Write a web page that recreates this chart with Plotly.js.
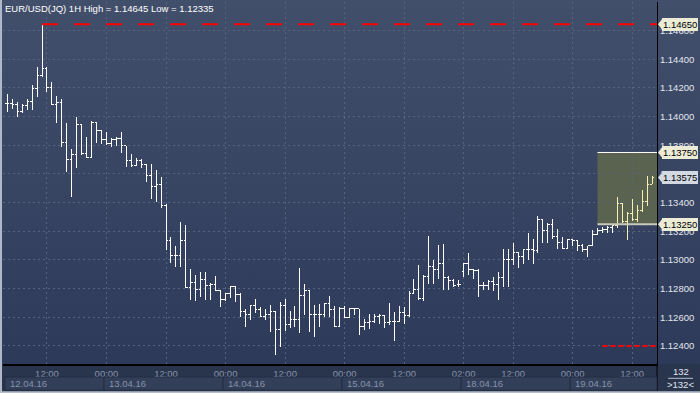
<!DOCTYPE html>
<html><head><meta charset="utf-8">
<script src="https://cdn.plot.ly/plotly-3.0.1.min.js"></script>
<style>
html,body{margin:0;padding:0;background:#2c3858;}
#chart{width:700px;height:393px;background:linear-gradient(to bottom,#424f6b 0%,#2c3858 100%);}
#chart .ohlclayer path{shape-rendering:crispEdges !important;}
</style>
</head><body><div id="chart"></div>
<script>
const openP=[1.14093,1.14093,1.14082,1.14035,1.14077,1.14109,1.14193,1.14289,1.14337,1.14205,
1.14086,1.14100,1.13821,1.13698,1.13737,1.13942,1.13744,1.13716,1.13961,1.13902,
1.13844,1.13814,1.13844,1.13849,1.13798,1.13695,1.13656,1.13693,1.13663,1.13588,
1.13516,1.13528,1.13377,1.13135,1.13028,1.13028,1.13133,1.12808,1.12842,1.12791,
1.12867,1.12821,1.12826,1.12786,1.12721,1.12768,1.12814,1.12761,1.12639,1.12621,
1.12679,1.12651,1.12607,1.12621,1.12639,1.12516,1.12679,1.12551,1.12586,1.12586,
1.12749,1.12784,1.12616,1.12621,1.12616,1.12693,1.12656,1.12539,1.12658,1.12600,
1.12658,1.12658,1.12535,1.12562,1.12569,1.12604,1.12609,1.12562,1.12574,1.12574,
1.12635,1.12609,1.12768,1.12796,1.12733,1.12883,1.12953,1.12930,1.12972,1.12876,
1.12855,1.12826,1.12918,1.12972,1.12935,1.12925,1.12819,1.12819,1.12853,1.12832,
1.12879,1.13000,1.13005,1.13051,1.13023,1.13070,1.13070,1.13063,1.13279,1.13204,
1.13244,1.13167,1.13121,1.13077,1.13140,1.13133,1.13098,1.13075,1.13098,1.13178,
1.13209,1.13214,1.13228,1.13237,1.13391,1.13267,1.13321,1.13284,1.13342,1.13407,
1.13530];
const highP=[1.14158,1.14123,1.14100,1.14089,1.14121,1.14221,1.14344,1.14645,1.14344,1.14240,
1.14144,1.14123,1.13958,1.13775,1.13996,1.13942,1.13861,1.13970,1.13965,1.13907,
1.13895,1.13854,1.13856,1.13891,1.13798,1.13737,1.13714,1.13705,1.13668,1.13668,
1.13626,1.13577,1.13389,1.13158,1.13098,1.13267,1.13244,1.12937,1.12895,1.12918,
1.12918,1.12837,1.12890,1.12791,1.12772,1.12819,1.12819,1.12768,1.12656,1.12686,
1.12726,1.12674,1.12656,1.12686,1.12645,1.12709,1.12728,1.12644,1.12679,1.12942,
1.12832,1.12791,1.12686,1.12693,1.12698,1.12749,1.12679,1.12674,1.12679,1.12663,
1.12663,1.12660,1.12588,1.12623,1.12621,1.12623,1.12616,1.12702,1.12635,1.12679,
1.12670,1.12786,1.12867,1.12965,1.12895,1.13170,1.13000,1.13105,1.13110,1.12888,
1.12867,1.12860,1.12981,1.13051,1.12940,1.12935,1.12849,1.12860,1.12883,1.12918,
1.13077,1.13075,1.13116,1.13058,1.13075,1.13186,1.13144,1.13307,1.13284,1.13256,
1.13284,1.13214,1.13158,1.13146,1.13146,1.13140,1.13110,1.13100,1.13209,1.13221,
1.13228,1.13239,1.13244,1.13437,1.13395,1.13337,1.13423,1.13384,1.13488,1.13586,
1.13586];
const lowP=[1.14035,1.14054,1.14000,1.14023,1.14047,1.14049,1.14140,1.14279,1.14170,1.14082,
1.13954,1.13786,1.13612,1.13442,1.13640,1.13733,1.13709,1.13709,1.13814,1.13809,
1.13802,1.13791,1.13795,1.13744,1.13651,1.13647,1.13656,1.13644,1.13547,1.13426,
1.13407,1.13365,1.13070,1.12981,1.12953,1.12953,1.12805,1.12721,1.12716,1.12744,
1.12721,1.12721,1.12786,1.12674,1.12714,1.12733,1.12709,1.12604,1.12535,1.12581,
1.12632,1.12604,1.12581,1.12500,1.12335,1.12395,1.12507,1.12528,1.12535,1.12488,
1.12616,1.12500,1.12465,1.12535,1.12604,1.12604,1.12535,1.12535,1.12593,1.12597,
1.12616,1.12477,1.12512,1.12516,1.12562,1.12553,1.12523,1.12546,1.12437,1.12569,
1.12553,1.12600,1.12761,1.12721,1.12716,1.12832,1.12830,1.12865,1.12791,1.12791,
1.12809,1.12809,1.12883,1.12895,1.12867,1.12744,1.12791,1.12791,1.12786,1.12721,
1.12809,1.12814,1.12965,1.12942,1.12972,1.13000,1.12972,1.13047,1.13121,1.13116,
1.13144,1.13075,1.13075,1.13075,1.13098,1.13065,1.13058,1.13023,1.13098,1.13175,
1.13186,1.13186,1.13190,1.13221,1.13260,1.13140,1.13274,1.13267,1.13335,1.13377,
1.13530];
const closeP=[1.14093,1.14082,1.14035,1.14077,1.14109,1.14193,1.14289,1.14337,1.14205,1.14086,
1.14100,1.13821,1.13698,1.13737,1.13942,1.13744,1.13716,1.13961,1.13902,1.13844,
1.13814,1.13844,1.13849,1.13798,1.13695,1.13656,1.13693,1.13663,1.13588,1.13516,
1.13528,1.13377,1.13135,1.13028,1.13028,1.13133,1.12808,1.12842,1.12791,1.12867,
1.12821,1.12826,1.12786,1.12721,1.12768,1.12814,1.12761,1.12639,1.12621,1.12679,
1.12651,1.12607,1.12621,1.12639,1.12516,1.12679,1.12551,1.12586,1.12586,1.12749,
1.12784,1.12616,1.12621,1.12616,1.12693,1.12656,1.12539,1.12658,1.12600,1.12658,
1.12658,1.12535,1.12562,1.12569,1.12604,1.12609,1.12562,1.12574,1.12574,1.12635,
1.12609,1.12768,1.12796,1.12733,1.12883,1.12953,1.12930,1.12972,1.12876,1.12855,
1.12819,1.12830,1.12972,1.12935,1.12925,1.12819,1.12819,1.12853,1.12832,1.12879,
1.13000,1.13005,1.13051,1.13023,1.13070,1.13070,1.13063,1.13279,1.13204,1.13244,
1.13167,1.13121,1.13077,1.13140,1.13133,1.13098,1.13075,1.13098,1.13178,1.13209,
1.13214,1.13228,1.13237,1.13391,1.13267,1.13321,1.13284,1.13342,1.13407,1.13530,
1.13575];

const tickIdx=[8,20,32,44,56,68,80,92,102,114,126];
const tickLbl=['12:00','00:00','12:00','00:00','12:00','00:00','12:00','02:00','12:00','00:00','12:00'];
const dayStart=[0,20,44,68,92,114];
const dayLbl=['12.04.16','13.04.16','14.04.16','15.04.16','18.04.16','19.04.16'];
const titleText='EUR/USD(JQ) 1H High = 1.14645 Low = 1.12335';
const highLevel=1.14645, highIdx=7;
const lowLevel=1.124, lowLineFrom=120;
const boxTop=1.1375, boxBottom=1.1325, boxFrom=119;
const tagValues=[1.14645,1.1375,1.13575,1.1325];
const tagText=['1.14650','1.13750','1.13575','1.13250'];
const tagFill=['#ecebd6','#ecebd6','#d3d9e3','#ecebd6'];
const highlightFrom=123;
const barCountText='132', barCountSub='>132<';

const idx=openP.map((_,i)=>i);
const xr=[-0.87,131.0];
const yr=[1.12274,1.14800];
const FONT='Liberation Sans, Arial, sans-serif';

function ohlc(a,b,color){
  return {type:'ohlc',x:idx.slice(a,b),open:openP.slice(a,b),high:highP.slice(a,b),
    low:lowP.slice(a,b),close:closeP.slice(a,b),tickwidth:0.42,hoverinfo:'skip',
    increasing:{line:{color:color,width:1}},decreasing:{line:{color:color,width:1}},showlegend:false};
}
const traces=[ohlc(0,highlightFrom,'#ffffff'),ohlc(highlightFrom,idx.length,'#f6f0b4')];

const shapes=[
  {type:'rect',xref:'paper',yref:'paper',x0:-0.01,x1:1.07,y0:0,y1:-0.085,fillcolor:'#29344d',line:{width:0},layer:'below'},
  {type:'rect',xref:'x',yref:'y',x0:boxFrom,x1:xr[1],y0:boxBottom,y1:boxTop,fillcolor:'#59634f',line:{width:0},layer:'below'},
  {type:'line',xref:'x',yref:'y',x0:boxFrom,x1:xr[1],y0:boxTop,y1:boxTop,line:{color:'#ffffff',width:1}},
  {type:'line',xref:'x',yref:'y',x0:boxFrom,x1:xr[1],y0:boxBottom,y1:boxBottom,line:{color:'#c9c9b8',width:2}},
  {type:'line',xref:'x',yref:'y',x0:highIdx,x1:xr[1],y0:highLevel,y1:highLevel,line:{color:'#ff0000',width:2,dash:'16px,16px'}},
  {type:'line',xref:'x',yref:'y',x0:lowLineFrom,x1:xr[1],y0:lowLevel,y1:lowLevel,line:{color:'#ff0000',width:2,dash:'5px,3px'}},
  {type:'line',xref:'paper',yref:'paper',x0:1,x1:1,y0:0,y1:-0.075,line:{color:'#000000',width:1}},
  {type:'rect',xref:'paper',yref:'paper',x0:-0.0046,x1:-0.0015,y0:1.01,y1:-0.085,fillcolor:'#aeb8c9',line:{width:0}},
  {type:'rect',xref:'paper',yref:'paper',x0:-0.0046,x1:1.07,y0:-0.075,y1:-0.085,fillcolor:'#b5bdca',line:{width:0}},
  {type:'line',xref:'paper',yref:'paper',x0:1.017,x1:1.055,y0:-0.0395,y1:-0.0395,line:{color:'#b8c0d0',width:1}}
];
dayStart.forEach((s,k)=>{
  const e=k+1<dayStart.length?dayStart[k+1]-0.5:xr[1];
  shapes.push({type:'rect',xref:'x',yref:'paper',x0:s-0.5,x1:e,y0:-0.036,y1:-0.072,
    fillcolor:'#333f59',line:{color:'#252f45',width:1}});
});
tagValues.forEach((v,k)=>{
  shapes.push({type:'path',xref:'paper',yref:'y',xsizemode:'pixel',ysizemode:'pixel',xanchor:1,yanchor:v,
    path:'M1,0 L5,5 L5,-5 Z',fillcolor:tagFill[k],line:{width:0}});
});

const annotations=[
  {xref:'paper',yref:'paper',x:0,y:1,xanchor:'left',yanchor:'top',xshift:0,yshift:1,showarrow:false,
   text:titleText,font:{family:FONT,size:9.5,color:'#ffffff'}},
  {xref:'paper',yref:'paper',x:1.036,y:-0.022,xanchor:'center',yanchor:'middle',showarrow:false,
   text:barCountText,font:{family:FONT,size:9.5,color:'#e3e7ef'}},
  {xref:'paper',yref:'paper',x:1.036,y:-0.056,xanchor:'center',yanchor:'middle',showarrow:false,
   text:barCountSub,font:{family:FONT,size:9.5,color:'#e3e7ef'}}
];
dayStart.forEach((s,k)=>{
  annotations.push({xref:'x',yref:'paper',x:s-0.5,y:-0.054,xanchor:'left',yanchor:'middle',xshift:3,showarrow:false,
    text:dayLbl[k],font:{family:FONT,size:9.5,color:'#8692a9'}});
});
tagValues.forEach((v,k)=>{
  annotations.push({xref:'paper',yref:'y',x:1,y:v,xanchor:'left',yanchor:'middle',xshift:5,showarrow:false,
    text:tagText[k],bgcolor:tagFill[k],bordercolor:'#8d8d80',borderwidth:0,borderpad:1,
    font:{family:FONT,size:9.5,color:'#000000'}});
});

const layout={
  width:700,height:393,margin:{l:3,r:43,t:2,b:29},
  paper_bgcolor:'rgba(0,0,0,0)',plot_bgcolor:'rgba(0,0,0,0)',
  showlegend:false,dragmode:false,
  xaxis:{type:'linear',range:xr,rangeslider:{visible:false},tickmode:'array',tickvals:tickIdx,ticktext:tickLbl,
    showgrid:true,gridcolor:'#56637d',griddash:'2px,3px',gridwidth:1,zeroline:false,
    showline:true,linecolor:'#000000',linewidth:2,ticks:'',
    tickfont:{family:FONT,size:9.5,color:'#8692a9'},fixedrange:true},
  yaxis:{side:'right',range:yr,tick0:1.124,dtick:0.002,tickformat:'.5f',
    showgrid:true,gridcolor:'#56637d',griddash:'2px,3px',gridwidth:1,zeroline:false,
    showline:true,linecolor:'#000000',linewidth:1,ticks:'',
    tickfont:{family:FONT,size:9.5,color:'#e3e7ef'},fixedrange:true},
  shapes:shapes,annotations:annotations
};
Plotly.newPlot('chart',traces,layout,{displayModeBar:false,staticPlot:true});
</script>
</body></html>
